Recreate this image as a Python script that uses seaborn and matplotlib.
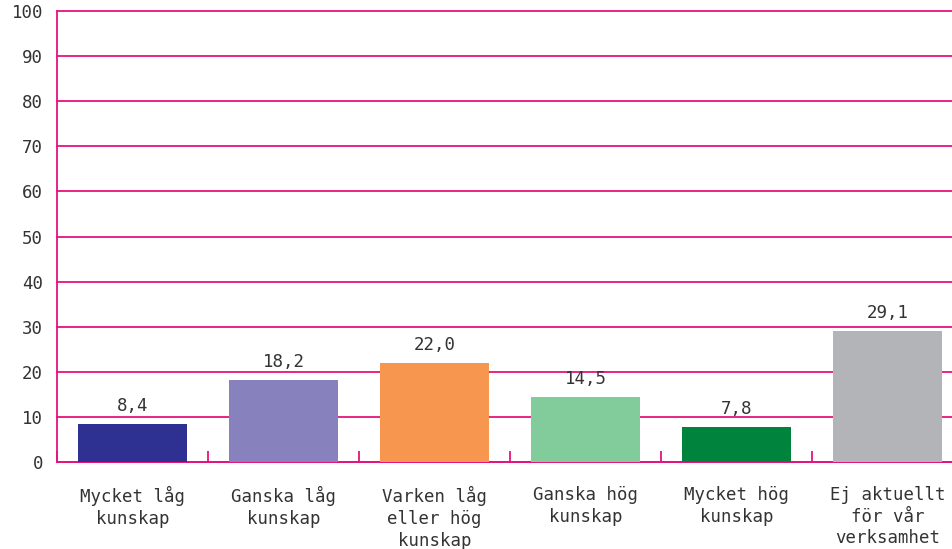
import matplotlib
matplotlib.use("Agg")
import matplotlib.pyplot as plt
import seaborn as sns
import pandas as pd
from matplotlib.ticker import FixedLocator

categories = ["Mycket låg\nkunskap", "Ganska låg\nkunskap", "Varken låg\neller hög\nkunskap",
              "Ganska hög\nkunskap", "Mycket hög\nkunskap", "Ej aktuellt\nför vår\nverksamhet"]
values = [8.4, 18.2, 22.0, 14.5, 7.8, 29.1]
colors = ["#2e3192", "#8781bd", "#f7964f", "#82cb9b", "#00843d", "#b3b4b7"]
y_ticks = [0, 10, 20, 30, 40, 50, 60, 70, 80, 90, 100]

sns.set_style("white")
plt.rcParams["font.family"] = ["DejaVu Sans Mono", "DejaVu Sans"]
pink = "#e5127d"
text_color = "#333333"

df = pd.DataFrame({"cat": categories, "val": values})
fig = plt.figure(figsize=(9.52, 5.49), dpi=100)
ax = fig.add_axes([57/952, 1 - 462/549, (963 - 57)/952, (462 - 11)/549])
sns.barplot(data=df, x="cat", y="val", hue="cat", palette=colors, legend=False,
            width=0.72, saturation=1, linewidth=0, ax=ax, zorder=3)

ax.set_ylim(0, 100)
ax.set_xlim(-0.5, len(categories) - 0.5)
ax.yaxis.set_major_locator(FixedLocator(y_ticks))
ax.grid(axis="y", color=pink, linewidth=1.3, zorder=0)
for gl in ax.get_ygridlines():
    gl.set_clip_on(False)
ax.set_axisbelow(True)
for s in ["top", "right"]:
    ax.spines[s].set_visible(False)
for s in ["left", "bottom"]:
    ax.spines[s].set_color(pink)
    ax.spines[s].set_linewidth(1.3)

ax.set_xlabel("")
ax.set_ylabel("")
ax.tick_params(axis="y", length=0, pad=10, labelsize=12.5, labelcolor=text_color)
ax.tick_params(axis="x", which="major", length=0, pad=17, labelsize=12.5, labelcolor=text_color)
ax.xaxis.set_minor_locator(FixedLocator([i + 0.5 for i in range(-1, len(categories))]))
ax.tick_params(axis="x", which="minor", bottom=True, direction="in", length=8, width=1.3, color=pink)
for lbl in ax.get_xticklabels():
    lbl.set_linespacing(1.28)

for c in ax.containers:
    ax.bar_label(c, labels=[f"{v:.1f}".replace(".", ",") for v in c.datavalues],
                 padding=6.5, fontsize=12.5, color=text_color)

fig.savefig("out.png", dpi=100)
